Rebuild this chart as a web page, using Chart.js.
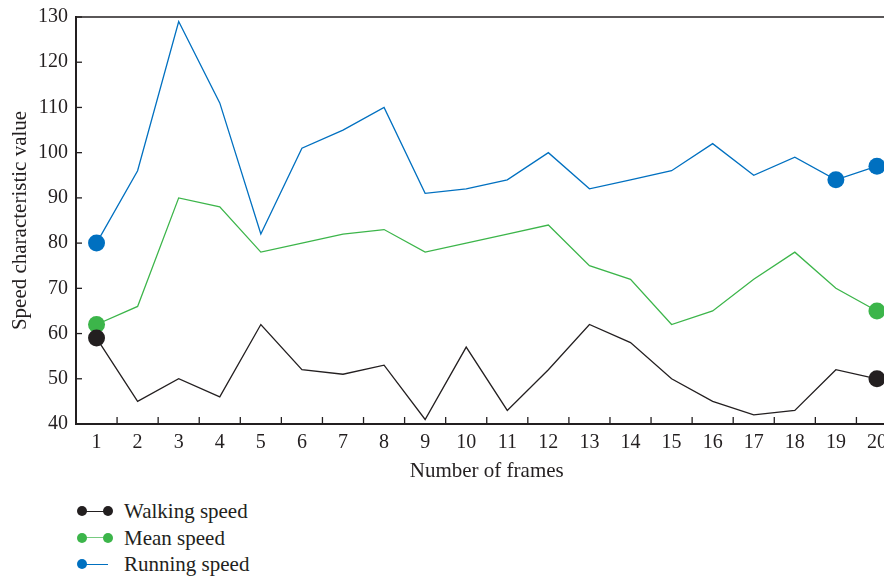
<!DOCTYPE html>
<html>
<head>
<meta charset="utf-8">
<script src="https://cdn.jsdelivr.net/npm/chart.js@4/dist/chart.umd.min.js"></script>
<style>
  html, body { margin: 0; padding: 0; background: #fff; width: 884px; height: 576px; overflow: hidden; }
  #wrap { position: absolute; left: 0; top: -3px; width: 906px; height: 487px; }
  #legend { position: absolute; left: 76px; top: 498px; font-family: "Liberation Serif", "DejaVu Serif", serif; font-size: 21px; color: #231f20; }
  .row { position: relative; height: 26.5px; line-height: 26.5px; }
  .sym { position: absolute; left: 0; top: 13px; width: 36px; height: 0; }
  .ln { position: absolute; left: 6px; width: 26px; top: -0.5px; height: 1.3px; }
  .dot { position: absolute; width: 10px; height: 10px; border-radius: 50%; top: -5px; }
  .txt { position: absolute; left: 48px; top: 0; white-space: nowrap; }
</style>
</head>
<body>
<div id="wrap"><canvas id="c" width="906" height="487"></canvas></div>
<div id="legend"></div>
<script>
const frames = ['1','2','3','4','5','6','7','8','9','10','11','12','13','14','15','16','17','18','19','20'];
const walkingSpeed = [59,45,50,46,62,52,51,53,41,57,43,52,62,58,50,45,42,43,52,50];
const meanSpeed    = [62,66,90,88,78,80,82,83,78,80,82,84,75,72,62,65,72,78,70,65];
const runningSpeed = [80,96,129,111,82,101,105,110,91,92,94,100,92,94,96,102,95,99,94,97];
const yTicks = [40,50,60,70,80,90,100,110,120,130];

const seriesNames = ['Walking speed','Mean speed','Running speed'];
const seriesColors = ['#231f20','#3cb54a','#0070c0'];
const markedIdx = [[0,19],[0,19],[0,18,19]];

function radii(marks){ return frames.map((f,i)=> marks.includes(i) ? 8.5 : 0); }

const FONT = '"Liberation Serif", "DejaVu Serif", serif';
const dataSets = [walkingSpeed, meanSpeed, runningSpeed].map((d,k)=>({
  label: seriesNames[k],
  data: d,
  borderColor: seriesColors[k],
  backgroundColor: seriesColors[k],
  borderWidth: 1.3,
  pointRadius: radii(markedIdx[k]),
  pointHoverRadius: radii(markedIdx[k]),
  pointBorderWidth: 0,
  tension: 0,
  clip: false
}));

const framePlugin = {
  id: 'framePlugin',
  afterDatasetsDraw(chart){
    const ctx = chart.ctx, a = chart.chartArea, xs = chart.scales.x, ys = chart.scales.y;
    ctx.save();
    ctx.strokeStyle = '#231f20';
    ctx.lineWidth = 1.5;
    ctx.beginPath(); ctx.moveTo(a.left, a.top); ctx.lineTo(a.right, a.top); ctx.stroke();
    ctx.lineWidth = 1.3;
    for (let i = 0; i < frames.length - 1; i++) {
      const px = (xs.getPixelForValue(i) + xs.getPixelForValue(i+1)) / 2;
      ctx.beginPath(); ctx.moveTo(px, a.bottom); ctx.lineTo(px, a.bottom - 7); ctx.stroke();
    }
    yTicks.forEach(v => {
      const py = ys.getPixelForValue(v);
      ctx.beginPath(); ctx.moveTo(a.left, py); ctx.lineTo(a.left + 6, py); ctx.stroke();
    });
    ctx.restore();
  }
};

new Chart(document.getElementById('c'), {
  type: 'line',
  data: { labels: frames, datasets: dataSets },
  options: {
    responsive: false,
    animation: false,
    events: [],
    layout: { padding: { top: 13, left: 0, right: 0, bottom: 0 } },
    plugins: { legend: { display: false }, tooltip: { enabled: false } },
    scales: {
      x: {
        offset: true,
        grid: { display: true, offset: true, drawOnChartArea: false, drawTicks: false, color: '#231f20' },
        border: { display: true, color: '#231f20', width: 2 },
        ticks: { color: '#231f20', font: { family: FONT, size: 20 }, padding: 7, maxRotation: 0, autoSkip: false },
        title: { display: true, text: 'Number of frames', color: '#231f20', font: { family: FONT, size: 21 }, padding: { top: 0, bottom: 0 } },
        afterFit(s){ s.height = 60; }
      },
      y: {
        min: 40, max: 130,
        afterBuildTicks(s){ s.ticks = yTicks.map(v=>({value:v})); },
        grid: { drawOnChartArea: false, drawTicks: false },
        border: { display: true, color: '#231f20', width: 2 },
        ticks: { color: '#231f20', font: { family: FONT, size: 20 }, padding: 8 },
        title: { display: true, text: 'Speed characteristic value', color: '#231f20', font: { family: FONT, size: 21 }, padding: { top: 8, bottom: 2 } },
        afterFit(s){ s.width = 76; }
      }
    }
  },
  plugins: [framePlugin]
});

const leg = document.getElementById('legend');
seriesNames.forEach((name,k)=>{
  const row = document.createElement('div'); row.className = 'row';
  const sym = document.createElement('div'); sym.className = 'sym';
  const ln = document.createElement('div'); ln.className = 'ln'; ln.style.background = seriesColors[k];
  if (k === 1) ln.style.opacity = '0.7';
  sym.appendChild(ln);
  const d1 = document.createElement('div'); d1.className = 'dot'; d1.style.left = '1px'; d1.style.background = seriesColors[k];
  sym.appendChild(d1);
  if (k < 2) { const d2 = document.createElement('div'); d2.className = 'dot'; d2.style.left = '27px'; d2.style.background = seriesColors[k]; sym.appendChild(d2); }
  const t = document.createElement('span'); t.className = 'txt'; t.textContent = name;
  row.appendChild(sym); row.appendChild(t); leg.appendChild(row);
});
</script>
</body>
</html>
